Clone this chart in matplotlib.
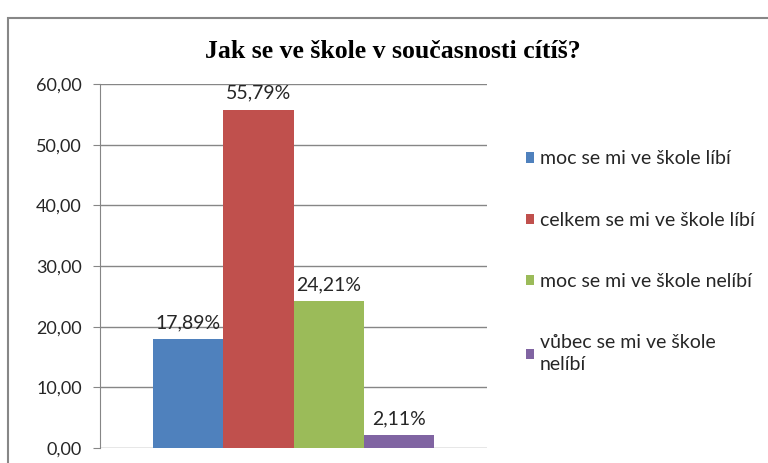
import matplotlib.pyplot as plt
from matplotlib.patches import Rectangle, Patch

# data
categories = ['moc se mi ve škole líbí', 'celkem se mi ve škole líbí',
              'moc se mi ve škole nelíbí', 'vůbec se mi ve škole\nnelíbí']
values = [17.89, 55.79, 24.21, 2.11]
colors = ['#4F81BD', '#C0504D', '#9BBB59', '#8064A2']
yticks = [0, 10, 20, 30, 40, 50, 60]

plt.rcParams['font.family'] = ['Lato', 'DejaVu Sans']
TXT = '#262626'

fig = plt.figure(figsize=(7.68, 4.63), dpi=100)

# outer chart border (cut off at right and bottom like the screenshot)
fig.patches.append(Rectangle((8 / 768, -0.1), 1.0, 1 - 18 / 463 + 0.1,
                             transform=fig.transFigure, fill=False,
                             edgecolor='#878787', linewidth=1.5))

ax = fig.add_axes([100 / 768, 1 - 448 / 463, 387 / 768, 364 / 463])

x = range(len(values))
ax.bar(x, values, width=1.0, color=colors, zorder=3)

for xi, v in zip(x, values):
    ax.text(xi, v + 1.3, f'{v:.2f}'.replace('.', ',') + '%',
            ha='center', va='bottom', fontsize=14, color=TXT)

ax.set_xlim(-1.25, 4.25)
ax.set_ylim(0, 60)
ax.set_yticks(yticks)
ax.set_yticklabels([f'{t:.2f}'.replace('.', ',') for t in yticks],
                   fontsize=13, color=TXT)
ax.set_xticks([])
ax.grid(axis='y', color='#868686', linewidth=1.0, zorder=0)
for s in ['top', 'right', 'bottom']:
    ax.spines[s].set_visible(False)
ax.spines['left'].set_color('#868686')
ax.tick_params(axis='y', length=5, color='#868686', pad=8)

fig.text(393 / 768, 1 - 58 / 463, 'Jak se ve škole v současnosti cítíš?',
         ha='center', va='baseline', fontsize=18.5, fontweight='bold',
         family='Liberation Serif')

handles = [Patch(facecolor=c) for c in colors]
leg = fig.legend(handles, categories, loc='upper left',
                 bbox_to_anchor=(508 / 768, 1 - 133 / 463), frameon=False,
                 fontsize=14, handlelength=0.45, handleheight=0.45,
                 handletextpad=0.3, labelspacing=2.28, labelcolor=TXT)
for t in leg.get_texts():
    t.set_linespacing(1.35)

fig.savefig('out.png', dpi=100)
